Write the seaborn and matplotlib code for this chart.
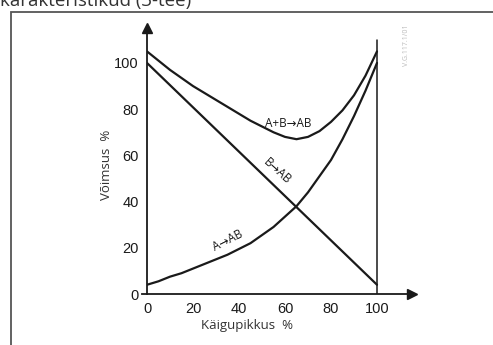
import numpy as np
import pandas as pd
import matplotlib
matplotlib.use("Agg")
import matplotlib.pyplot as plt
import seaborn as sns
from matplotlib.patches import Rectangle

# values
stroke = [0, 5, 10, 15, 20, 25, 30, 35, 40, 45, 50, 55, 60, 65, 70, 75, 80, 85, 90, 95, 100]
a_ab = [4, 5.5, 7.5, 9, 11, 13, 15, 17, 19.5, 22, 25.5, 29, 33.5, 38, 44, 51, 58, 67, 77, 88, 100]
ab_ab = [105, 101, 97, 93.5, 90, 87, 84, 81, 78, 75, 72.5, 70, 68, 67, 68, 70.5, 74.5, 79.5, 86, 94.5, 105]
stroke_b = [0, 100]
b_ab = [100, 4]
ticks = [0, 20, 40, 60, 80, 100]

df = pd.DataFrame({'x': stroke + stroke_b + stroke,
                   'y': a_ab + b_ab + ab_ab,
                   'curve': ['A'] * len(stroke) + ['B'] * len(stroke_b) + ['AB'] * len(stroke)})

sns.set_style("white")
plt.rcParams['font.family'] = ['Open Sans', 'DejaVu Sans']

fig = plt.figure(figsize=(4.93, 3.45), dpi=100)
ax = fig.add_axes([147 / 493, 51 / 345, 264.5 / 493, 265.7 / 345])

sns.lineplot(data=df, x='x', y='y', hue='curve', palette=['#1a1a1a'] * 3,
             linewidth=1.6, legend=False, ax=ax, sort=False, estimator=None)

ax.set_xlim(0, 115)
ax.set_ylim(0, 115)
for s in ['top', 'right']:
    ax.spines[s].set_visible(False)
for s in ['left', 'bottom']:
    ax.spines[s].set_color('#1a1a1a')
    ax.spines[s].set_linewidth(1.3)
ax.spines['bottom'].set_bounds(-2, 115)

ax.set_xticks(ticks)
ax.set_yticks(ticks)
ax.set_xticks([10, 30, 50, 70, 90], minor=True)
ax.set_yticks([10, 30, 50, 70, 90], minor=True)
ax.tick_params(which='major', direction='out', length=4, width=1, color='#1a1a1a',
               labelsize=10.5, labelcolor='#1a1a1a', pad=2)
ax.tick_params(which='minor', direction='out', length=4, width=1, color='#1a1a1a')
for lab in ax.get_xticklabels() + ax.get_yticklabels():
    lab.set_family('Liberation Sans')
ax.set_xlabel('')
ax.set_ylabel('')

# arrows at the axis ends
ax.plot(115, 0, '>', color='#1a1a1a', markersize=7, clip_on=False)
ax.plot(0, 115, '^', color='#1a1a1a', markersize=7, clip_on=False)
ax.plot([100, 100], [0, 110], color='#1a1a1a', linewidth=1.1)

# curve labels
lab_kw = dict(fontsize=8.5, color='#1a1a1a', ha='center', va='center',
              family=['Open Sans', 'DejaVu Sans'])
ax.text(61.3, 74, 'A+B→AB', **lab_kw)
ax.text(56.5, 53, 'B→AB', rotation=-42, **lab_kw)
ax.text(35, 23, 'A→AB', rotation=27, **lab_kw)

fig.text(107 / 493, 1 - 165 / 345, 'Võimsus  %', rotation=90, ha='center', va='center',
         fontsize=9.5, color='#333333')
fig.text(247 / 493, 1 - 325 / 345, 'Käigupikkus  %', ha='center', va='center',
         fontsize=9.5, color='#333333')

# watermark and page furniture
fig.text(406 / 493, 1 - 45 / 345, 'V.G.117.1/01', rotation=90, ha='center', va='center',
         fontsize=5, color='#bbbbbb')
fig.text(0.0, 1 - 6 / 345, 'karakteristikud (3-tee)', ha='left', va='baseline',
         fontsize=13.5, color='#333333')
fig.patches.append(Rectangle((11 / 493, -0.2), 1.2, 1.2 - 12 / 345,
                             transform=fig.transFigure, fill=False,
                             edgecolor='#555555', linewidth=1.3))

fig.savefig('out.png', dpi=100)
